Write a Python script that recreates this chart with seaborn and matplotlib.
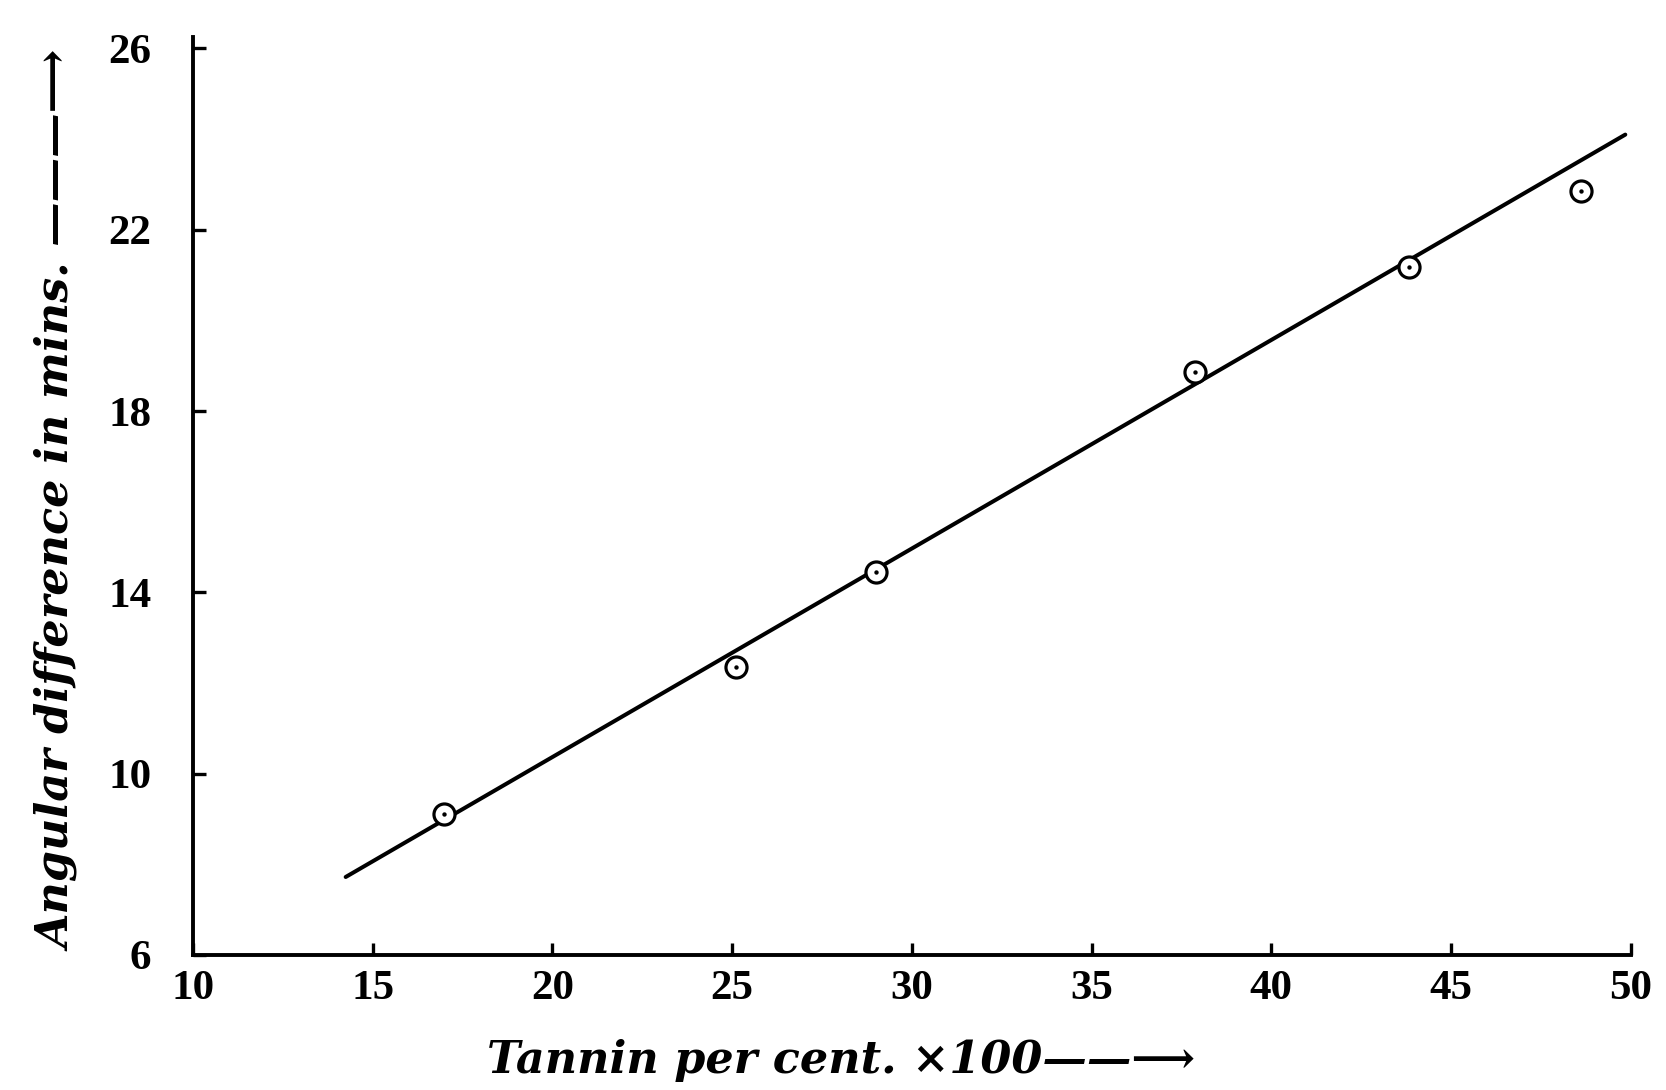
import matplotlib
matplotlib.use("Agg")
import matplotlib.pyplot as plt
import seaborn as sns
import pandas as pd

# Tannin (per cent x 100) against angular difference (mins.)
tannin = [16.98, 25.1, 29.0, 37.87, 43.82, 48.63]
angular_diff = [9.12, 12.35, 14.46, 18.87, 21.19, 22.86]

# ends of the drawn straight line
fit_x = [14.25, 49.85]
fit_y = [7.72, 24.1]

x_ticks = [10, 15, 20, 25, 30, 35, 40, 45, 50]
y_ticks = [6, 10, 14, 18, 22, 26]

sns.set_theme(style="ticks")
plt.rcParams['font.family'] = ['Liberation Serif', 'DejaVu Sans']

points = pd.DataFrame({'tannin': tannin, 'angle': angular_diff})
line = pd.DataFrame({'tannin': fit_x, 'angle': fit_y})

fig = plt.figure(figsize=(16.66, 10.9), dpi=100)
ax = fig.add_axes([0.1158, 0.1239, 0.863, 0.842])

sns.lineplot(data=line, x='tannin', y='angle', color='black', linewidth=2.9, ax=ax)
sns.scatterplot(data=points, x='tannin', y='angle', marker='o', s=230,
                facecolor='white', edgecolor='black', linewidth=2.3, zorder=3, ax=ax)
sns.scatterplot(data=points, x='tannin', y='angle', marker='o', s=10,
                color='black', linewidth=0, zorder=4, ax=ax)

ax.set_xlim(10, 50)
ax.set_ylim(6, 26.25)
ax.set_xticks(x_ticks)
ax.set_yticks(y_ticks)
ax.set_xticklabels([str(t) for t in x_ticks])
ax.set_yticklabels([str(t) for t in y_ticks])

sns.despine(ax=ax)
for side in ['left', 'bottom']:
    ax.spines[side].set_linewidth(2.8)
    ax.spines[side].set_color('black')

ax.tick_params(axis='both', direction='in', length=9, width=2.4, colors='black',
               labelsize=31)
ax.tick_params(axis='x', pad=11)
ax.tick_params(axis='y', pad=30)
for lbl in ax.get_xticklabels() + ax.get_yticklabels():
    lbl.set_fontweight('bold')

label_font = ['DejaVu Serif', 'DejaVu Sans']
ax.set_xlabel('Tannin per cent. \u00d7100\u2014\u2014\u27f6', fontsize=32,
              family=label_font, fontstyle='italic', fontweight='bold',
              color='black', va='center')
ax.set_ylabel('Angular difference in mins. \u2014\u2014\u2014\u27f6', fontsize=32,
              family=label_font, fontstyle='italic', fontweight='bold',
              color='black', va='center')
ax.xaxis.set_label_coords(0.451, -0.115)
ax.yaxis.set_label_coords(-0.093, 0.494)

fig.savefig('out.png', dpi=100, facecolor='white')
